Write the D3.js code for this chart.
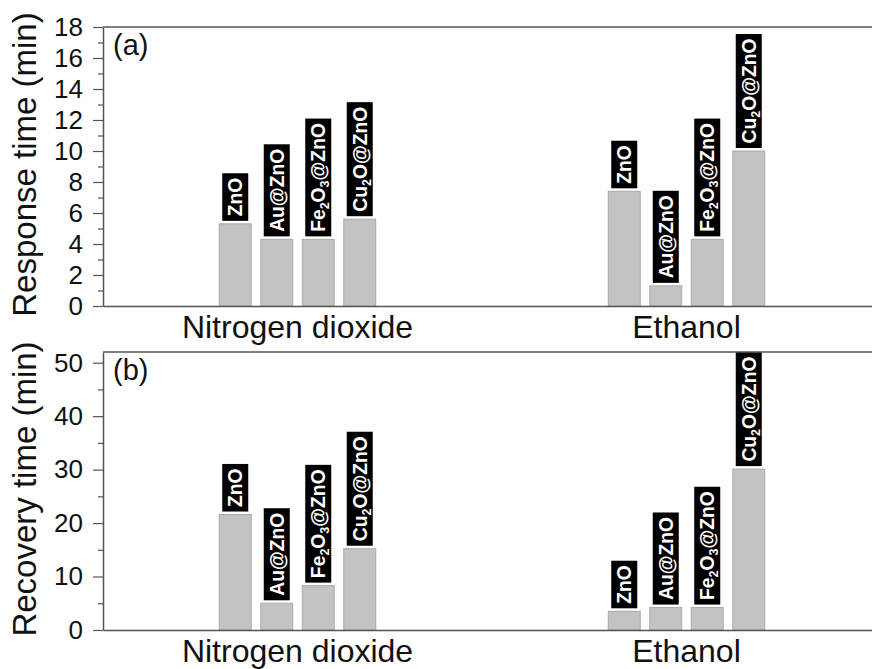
<!DOCTYPE html>
<html>
<head>
<meta charset="utf-8">
<script src="https://cdn.jsdelivr.net/npm/d3@7"></script>
<style>
  html, body { margin: 0; padding: 0; background: #fff; }
  svg { display: block; font-family: "Liberation Sans", Arial, sans-serif; }
</style>
</head>
<body>
<svg id="chart" width="872" height="669"></svg>
<script>
// ---- data ----
const categories = ["Nitrogen dioxide", "Ethanol"];
const materials = ["ZnO", "Au@ZnO", "Fe_2O_3@ZnO", "Cu_2O@ZnO"];
const responseNO2 = [5.3, 4.3, 4.3, 5.6];
const responseEthanol = [7.4, 1.3, 4.3, 10.0];
const recoveryNO2 = [21.6, 5.0, 8.3, 15.2];
const recoveryEthanol = [3.5, 4.2, 4.2, 30.1];
const responseTicks = [0, 2, 4, 6, 8, 10, 12, 14, 16, 18];
const responseMinor = [1, 3, 5, 7, 9, 11, 13, 15, 17];
const recoveryTicks = [0, 10, 20, 30, 40, 50];
const recoveryMinor = [5, 15, 25, 35, 45];

// ---- layout ----
const svg = d3.select("#chart");
const left = 103, right = 881;
const panels = [
  { tag: "(a)", title: "Response time (min)", top: 27, bottom: 306, max: 18,
    ticks: responseTicks, minor: responseMinor, series: [responseNO2, responseEthanol] },
  { tag: "(b)", title: "Recovery time (min)", top: 352, bottom: 630, max: 52,
    ticks: recoveryTicks, minor: recoveryMinor, series: [recoveryNO2, recoveryEthanol] }
];

const x0 = d3.scaleBand().domain(categories).range([left, right]).padding(0);
const half = x0.bandwidth() / 2;
const x1 = d3.scaleBand().domain(materials)
  .range([half - 83, half + 83]).paddingInner(0.23).paddingOuter(0.115);

const axisColor = "#555";

function addLabel(sel, label) {
  const parts = label.split(/(_\d)/).filter(s => s.length);
  let shifted = false;
  parts.forEach(p => {
    if (p.startsWith("_")) {
      sel.append("tspan").attr("font-size", 12.5).attr("dy", 4).text(p.slice(1));
      shifted = true;
    } else {
      const t = sel.append("tspan").text(p);
      if (shifted) { t.attr("dy", -4); shifted = false; }
    }
  });
}

panels.forEach((pn, pi) => {
  const y = d3.scaleLinear().domain([0, pn.max]).range([pn.bottom, pn.top]);
  const g = svg.append("g");

  const clipId = "clip" + pi;
  svg.append("clipPath").attr("id", clipId)
    .append("rect").attr("x", left).attr("y", pn.top)
    .attr("width", right - left).attr("height", pn.bottom - pn.top);

  const plot = g.append("g").attr("clip-path", `url(#${clipId})`);

  categories.forEach((cat, ci) => {
    const vals = pn.series[ci];
    materials.forEach((m, mi) => {
      const bx = x0(cat) + x1(m);
      const bw = x1.bandwidth();
      const yTop = y(vals[mi]);
      plot.append("rect")
        .attr("x", bx).attr("y", yTop)
        .attr("width", bw).attr("height", y(0) - yTop)
        .attr("fill", "#c3c3c3").attr("stroke", "#a9a9a9").attr("stroke-width", 1);

      const cx = bx + bw / 2;
      const pad = 4.5;
      const boxBottom = yTop - 3;
      const lg = plot.append("g");
      const rect = lg.append("rect").attr("fill", "#000");
      const txt = lg.append("text")
        .attr("transform", `translate(${cx + 7},${boxBottom - pad}) rotate(-90)`)
        .attr("fill", "#fff").attr("font-weight", "bold").attr("font-size", 19.3);
      addLabel(txt, m);
      const L = txt.node().getComputedTextLength();
      rect.attr("x", cx - 13).attr("width", 26)
        .attr("y", boxBottom - L - 2 * pad).attr("height", L + 2 * pad);
    });
  });

  // top frame line
  g.append("line").attr("x1", left).attr("x2", right)
    .attr("y1", pn.top).attr("y2", pn.top)
    .attr("stroke", axisColor).attr("stroke-width", 1.5);

  // x axis
  const xAxis = g.append("g").attr("transform", `translate(0,${pn.bottom})`)
    .call(d3.axisBottom(x0).tickSize(0).tickPadding(9));
  xAxis.select(".domain").attr("stroke", axisColor).attr("stroke-width", 1.5);
  xAxis.selectAll("text").attr("font-size", 32).attr("fill", "#111")
    .attr("font-family", "Liberation Sans, Arial, sans-serif");

  // y axis minor
  const yMinor = g.append("g").attr("transform", `translate(${left},0)`)
    .call(d3.axisLeft(y).tickValues(pn.minor).tickSize(5).tickFormat(""));
  yMinor.select(".domain").remove();
  yMinor.selectAll("line").attr("stroke", axisColor).attr("stroke-width", 1.2);

  // y axis major
  const yAxis = g.append("g").attr("transform", `translate(${left},0)`)
    .call(d3.axisLeft(y).tickValues(pn.ticks).tickSize(10).tickSizeOuter(0).tickPadding(10));
  yAxis.select(".domain").attr("stroke", axisColor).attr("stroke-width", 1.5);
  yAxis.selectAll(".tick line").attr("stroke", axisColor).attr("stroke-width", 1.2);
  yAxis.selectAll("text").attr("font-size", 26).attr("fill", "#111")
    .attr("font-family", "Liberation Sans, Arial, sans-serif");

  // y title
  g.append("text")
    .attr("transform", `translate(36,${(pn.top + pn.bottom) / 2 - 2}) rotate(-90)`)
    .attr("text-anchor", "middle").attr("font-size", 33).attr("fill", "#111")
    .text(pn.title);

  // panel tag
  g.append("text").attr("x", 113).attr("y", pn.top + 28)
    .attr("font-size", 29).attr("fill", "#111").text(pn.tag);
});
</script>
</body>
</html>
